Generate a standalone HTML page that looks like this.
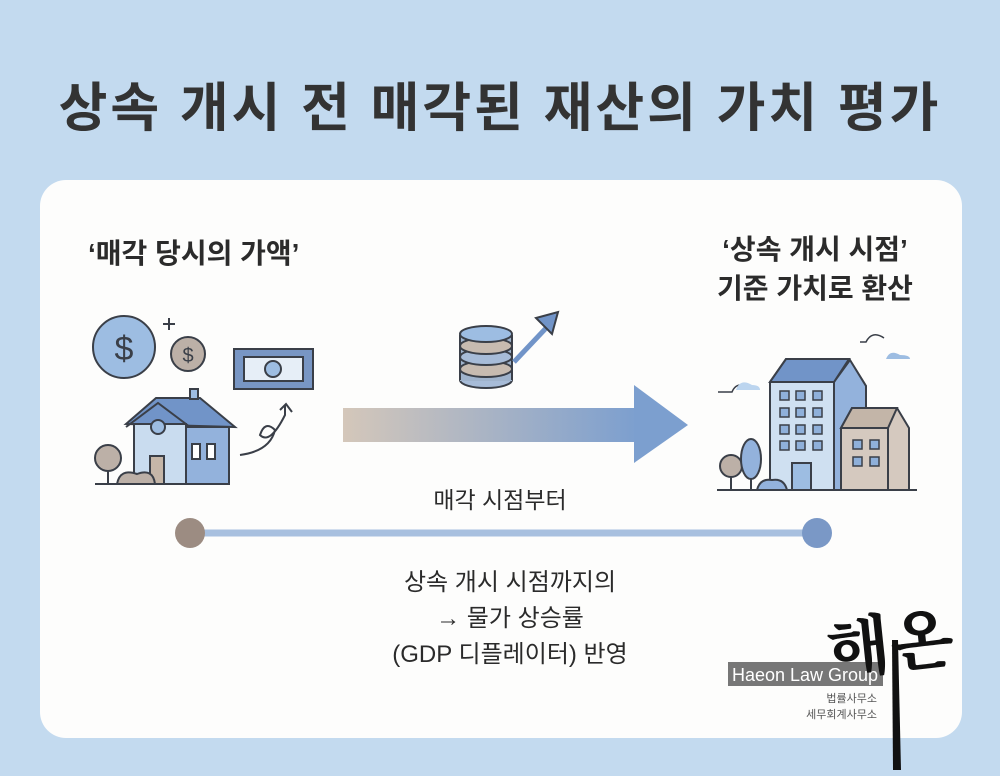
<!DOCTYPE html>
<html><head><meta charset="utf-8"><style>
body{margin:0;width:1000px;height:776px;background:#c3daef;font-family:"Liberation Sans","Noto Sans CJK KR",sans-serif;position:relative;overflow:hidden}
.t{position:absolute;white-space:nowrap;color:#2b2b2b}
.card{position:absolute;left:40px;top:180px;width:922px;height:558px;background:#fdfdfc;border-radius:26px}
</style></head><body>
<div class="t" style="left:0;width:1000px;text-align:center;top:66px;font-size:53px;font-weight:bold;color:#333;letter-spacing:3px">상속 개시 전 매각된 재산의 가치 평가</div>
<div class="card"></div>
<div class="t" style="left:88px;top:232px;font-size:28px;font-weight:bold">‘매각 당시의 가액’</div>
<div class="t" style="left:700px;width:230px;text-align:center;top:230px;font-size:28px;font-weight:bold;line-height:39px">‘상속 개시 시점’<br>기준 가치로 환산</div>
<div class="t" style="left:0;width:1000px;text-align:center;top:481px;font-size:23px">매각 시점부터</div>
<div class="t" style="left:330px;width:360px;text-align:center;top:565px;font-size:24px;line-height:36px">상속 개시 시점까지의<br>→ 물가 상승률<br>(GDP 디플레이터) 반영</div>
<svg width="1000" height="776" style="position:absolute;left:0;top:0">
<defs><linearGradient id="g" x1="0" x2="1"><stop offset="0" stop-color="#d4c7ba"/><stop offset="1" stop-color="#7c9fcf"/></linearGradient></defs>
<rect x="343" y="408" width="295" height="34" fill="url(#g)"/>
<polygon points="634,385 688,425 634,463" fill="#7c9fcf"/>
<line x1="190" y1="533" x2="817" y2="533" stroke="#a8c0df" stroke-width="7"/>
<circle cx="190" cy="533" r="15" fill="#9c8c82"/>
<circle cx="817" cy="533" r="15" fill="#7a98c6"/>
<g stroke="#3a3f48" stroke-width="2" fill="none">
<circle cx="124" cy="347" r="31" fill="#9dbde2"/>
<text x="124" y="360" font-size="34" text-anchor="middle" fill="#3a3f48" stroke="none">$</text>
<circle cx="188" cy="354" r="17" fill="#bcb0a7"/>
<text x="188" y="362" font-size="20" text-anchor="middle" fill="#3a3f48" stroke="none">$</text>
<path d="M169 318v12M163 324h12"/>
<rect x="234" y="349" width="79" height="40" fill="#7896c4"/>
<rect x="244" y="357" width="59" height="24" fill="#e6eef7"/>
<circle cx="273" cy="369" r="8" fill="#9dbde2"/>
<path d="M126 424 L156 398 L200 398 L235 427 Z" fill="#7194c8"/>
<rect x="190" y="389" width="8" height="10" fill="#9dbde2"/>
<rect x="134" y="424" width="52" height="60" fill="#c9dcef"/>
<rect x="186" y="427" width="43" height="57" fill="#93b2dc"/>
<path d="M126 427 L158 403 L190 427" />
<circle cx="158" cy="427" r="7" fill="#9dbde2"/>
<rect x="150" y="456" width="14" height="28" fill="#c5b6a8"/>
<rect x="192" y="444" width="8" height="15" fill="#fff"/><rect x="207" y="444" width="8" height="15" fill="#fff"/>
<circle cx="108" cy="458" r="13" fill="#bcb0a7"/><path d="M108 471v13"/>
<path d="M117 484 q3-16 20-10 q16-6 18 10Z" fill="#bcb0a7"/>
<path d="M95 484h135"/>
<path d="M240 455 q30-4 35-25 q-10-10-15 5 q10 10 25-20 v-10 M280 410 l6-6 l6 8"/>
<ellipse cx="486" cy="380" rx="26" ry="8" fill="#a7bcd8"/>
<rect x="460" y="335" width="52" height="46" fill="#9fb3cc" stroke="none"/>
<path d="M460 335v45M512 335v45"/>
<ellipse cx="486" cy="369" rx="26" ry="8" fill="#c7bbb0"/>
<ellipse cx="486" cy="357" rx="26" ry="8" fill="#a7bcd8"/>
<ellipse cx="486" cy="346" rx="26" ry="8" fill="#c7bbb0"/>
<ellipse cx="486" cy="334" rx="26" ry="8" fill="#9dbde2"/>
<path d="M514 362 L548 326" stroke="#7194c8" stroke-width="5"/>
<polygon points="536,318 558,312 552,334" fill="#7194c8"/>
<path d="M770 382 L786 359 L849 359 L866 386 L866 490 L770 490Z" fill="#cfe0f1"/>
<path d="M834 382 L850 360 L866 386 V490 H834Z" fill="#93b2dc"/>
<path d="M770 382 L786 359 L849 359 L834 382 Z" fill="#7194c8"/>
<g fill="#8fb0da" stroke-width="1.5">
<rect x="780" y="391" width="9" height="9"/><rect x="796" y="391" width="9" height="9"/><rect x="813" y="391" width="9" height="9"/>
<rect x="780" y="408" width="9" height="9"/><rect x="796" y="408" width="9" height="9"/><rect x="813" y="408" width="9" height="9"/>
<rect x="780" y="425" width="9" height="9"/><rect x="796" y="425" width="9" height="9"/><rect x="813" y="425" width="9" height="9"/>
<rect x="780" y="441" width="9" height="9"/><rect x="796" y="441" width="9" height="9"/><rect x="813" y="441" width="9" height="9"/>
</g>
<rect x="792" y="463" width="19" height="27" fill="#9dbde2"/>
<path d="M841 428 L852 408 L897 408 L909 428 V490 H841Z" fill="#d5c9bf"/>
<path d="M841 428 L852 408 L897 408 L888 428 Z" fill="#c3b5a8"/>
<path d="M888 428 V490"/>
<g fill="#8fb0da" stroke-width="1.5"><rect x="853" y="440" width="9" height="9"/><rect x="870" y="440" width="9" height="9"/><rect x="853" y="457" width="9" height="9"/><rect x="870" y="457" width="9" height="9"/></g>
<circle cx="731" cy="466" r="11" fill="#bcb0a7"/><path d="M731 477v13"/>
<ellipse cx="751" cy="459" rx="10" ry="20" fill="#93b2dc"/><path d="M751 479v11"/>
<path d="M757 490 q3-12 15-10 q12-2 15 10Z" fill="#93b2dc"/>
<path d="M717 490h200"/>
<path d="M718 392h14 q4-10 15-6" stroke-width="1.5"/><path d="M860 342h6 q6-12 18-4" stroke-width="1.5"/>
</g>
<path d="M736 390 q4-12 16-5 q8 0 8 5Z" fill="#bcd5ef"/>
<path d="M886 359 q4-10 14-4 q10 0 10 4Z" fill="#9dbde2"/>
<rect x="728" y="662" width="155" height="24" fill="#777"/>
<text x="805" y="681" font-size="18" fill="#fff" text-anchor="middle" font-family="Liberation Sans,sans-serif">Haeon Law Group</text>
<text x="877" y="702" font-size="11" fill="#555" text-anchor="end" font-family="Noto Sans CJK KR,sans-serif">법률사무소</text>
<text x="877" y="718" font-size="11" fill="#555" text-anchor="end" font-family="Noto Sans CJK KR,sans-serif">세무회계사무소</text>
<text x="826" y="666" font-size="66" fill="#111" font-family="Noto Serif CJK SC,serif" font-weight="bold" transform="rotate(-6 900 640)">해온</text>
<path d="M892 640 L898 640 L901 770 L893 770Z" fill="#111"/>
</svg>
</body></html>
